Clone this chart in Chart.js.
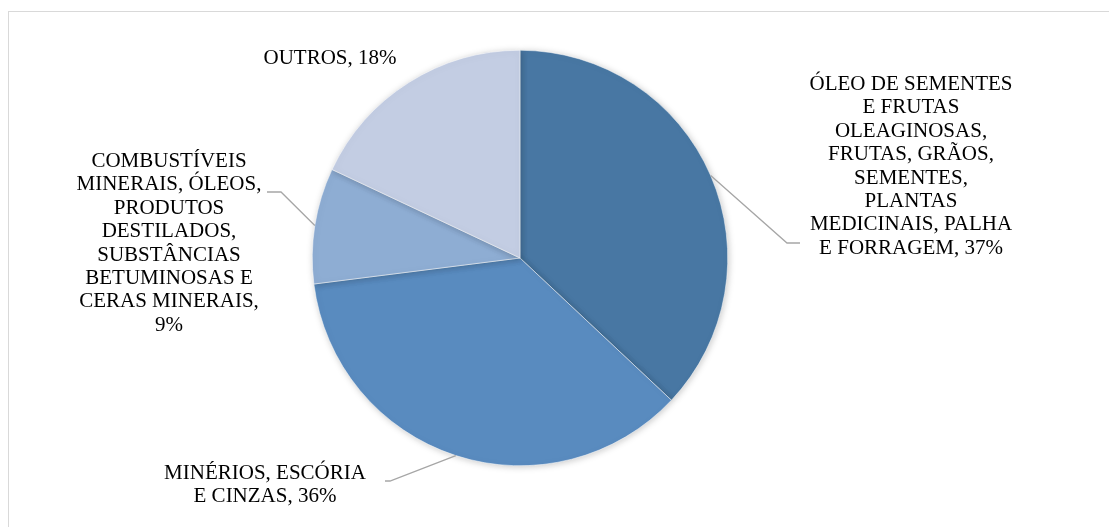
<!DOCTYPE html>
<html>
<head>
<meta charset="utf-8">
<script src="https://cdn.jsdelivr.net/npm/chart.js@4.4.0/dist/chart.umd.min.js"></script>
<style>
    html, body { margin: 0; padding: 0; background: #fff; }
    #wrap { position: relative; width: 1109px; height: 527px; overflow: hidden; }
    #frame { position: absolute; left: 8px; top: 11px; width: 1200px; height: 600px; border: 1px solid #d9d9d9; }
    #pieChart { position: absolute; left: 0; top: 0; }
</style>
</head>
<body>
<div id="wrap">
    <div id="frame"></div>
    <canvas id="pieChart" width="1109" height="527"></canvas>
</div>
<script>
// Export shares by product group (%)
const categories = [
    'ÓLEO DE SEMENTES E FRUTAS OLEAGINOSAS, FRUTAS, GRÃOS, SEMENTES, PLANTAS MEDICINAIS, PALHA E FORRAGEM',
    'MINÉRIOS, ESCÓRIA E CINZAS',
    'COMBUSTÍVEIS MINERAIS, ÓLEOS, PRODUTOS DESTILADOS, SUBSTÂNCIAS BETUMINOSAS E CERAS MINERAIS',
    'OUTROS'
];
const shares = [37, 36, 9, 18];
const sliceColors = ['#4877a3', '#598bbf', '#8eadd3', '#c3cde3'];

// wrapped label text, {v} is replaced by the share
const labelLines = [
    ['ÓLEO DE SEMENTES', 'E FRUTAS', 'OLEAGINOSAS,', 'FRUTAS, GRÃOS,', 'SEMENTES,', 'PLANTAS', 'MEDICINAIS, PALHA', 'E FORRAGEM, {v}%'],
    ['MINÉRIOS, ESCÓRIA', 'E CINZAS, {v}%'],
    ['COMBUSTÍVEIS', 'MINERAIS, ÓLEOS,', 'PRODUTOS', 'DESTILADOS,', 'SUBSTÂNCIAS', 'BETUMINOSAS E', 'CERAS MINERAIS,', '{v}%'],
    ['OUTROS, {v}%']
];

// label placement: text centre x, first line y, leader elbow and end (null = no leader)
const labelPos = [
    { x: 911, y: 84.5, elbow: [787, 243], end: [800, 243] },
    { x: 265, y: 473.5, elbow: [390, 481], end: [385, 481] },
    { x: 169, y: 161.5, elbow: [281, 192], end: [267, 192] },
    { x: 330, y: 58.5, elbow: null, end: null }
];

const shadowPlugin = {
    id: 'pieShadow',
    beforeDatasetDraw(chart) {
        const c = chart.ctx;
        c.save();
        c.shadowColor = 'rgba(0, 0, 0, 0.22)';
        c.shadowBlur = 7;
        c.shadowOffsetX = 1;
        c.shadowOffsetY = 1;
    },
    afterDatasetDraw(chart) {
        chart.ctx.restore();
    }
};

const outsideLabels = {
    id: 'outsideLabels',
    afterDatasetsDraw(chart) {
        const c = chart.ctx;
        const arcs = chart.getDatasetMeta(0).data;
        c.save();
        arcs.forEach((arc, i) => {
            const pos = labelPos[i];
            if (pos.elbow) {
                const mid = (arc.startAngle + arc.endAngle) / 2;
                const sx = arc.x + Math.cos(mid) * arc.outerRadius;
                const sy = arc.y + Math.sin(mid) * arc.outerRadius;
                c.beginPath();
                c.moveTo(sx, sy);
                c.lineTo(pos.elbow[0], pos.elbow[1]);
                c.lineTo(pos.end[0], pos.end[1]);
                c.strokeStyle = '#a6a6a6';
                c.lineWidth = 1.3;
                c.stroke();
            }
            c.fillStyle = '#000';
            c.font = '21px "Liberation Serif", "Times New Roman", serif';
            c.textAlign = 'center';
            c.textBaseline = 'middle';
            labelLines[i].forEach((line, k) => {
                c.fillText(line.replace('{v}', shares[i]), pos.x, pos.y + k * 23.4);
            });
        });
        c.restore();
    }
};

new Chart(document.getElementById('pieChart'), {
    type: 'pie',
    data: {
        labels: categories,
        datasets: [{
            data: shares,
            backgroundColor: sliceColors,
            borderColor: '#ffffff',
            borderWidth: 0.5
        }]
    },
    options: {
        responsive: false,
        animation: false,
        layout: { padding: { left: 312, right: 381, top: 50, bottom: 61 } },
        plugins: {
            legend: { display: false },
            tooltip: { enabled: false }
        }
    },
    plugins: [shadowPlugin, outsideLabels]
});
</script>
</body>
</html>
